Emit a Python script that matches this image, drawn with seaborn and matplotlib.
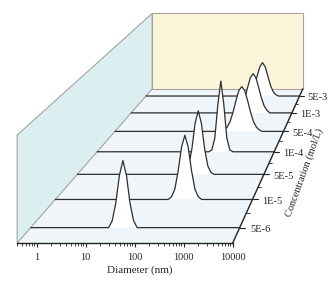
import numpy as np
import matplotlib
matplotlib.use("Agg")
import matplotlib.pyplot as plt
import seaborn as sns

# concentration rows, front to back
concentrations = ["5E-6", "1E-5", "5E-5", "1E-4", "5E-4", "1E-3", "5E-3"]

# size distributions (diameter nm, intensity %)
diam_5e6 = [17.5, 20.8, 24.7, 29.4, 34.9, 41.5, 49.2, 58.5, 69.5]
int_5e6 = [0, 2.0, 7.0, 14.9, 19.2, 14.9, 7.0, 2.0, 0]
diam_1e5 = [131, 156, 185, 220, 261, 310, 368, 437, 520, 618, 734]
int_1e5 = [0, 0.8, 3.1, 8.7, 15.9, 19.5, 15.9, 8.7, 3.1, 0.8, 0]
diam_5e5 = [120, 142, 169, 201, 238, 283, 336, 399, 475, 564, 670]
int_5e5 = [0, 0.6, 2.7, 8.3, 16.3, 20.4, 16.3, 8.3, 2.7, 0.6, 0]
diam_1e4 = [237, 282, 335, 398, 473, 562, 667, 793, 942]
int_1e4 = [0, 0.6, 4.6, 15.8, 23.9, 15.8, 4.6, 0.6, 0]
diam_5e4 = [239, 285, 340, 405, 482, 575, 685, 817, 974, 1161, 1384, 1650, 1966, 2343, 2793]
int_5e4 = [0, 0.5, 1.5, 3.5, 6.8, 10.9, 14.5, 15.9, 14.5, 10.9, 6.8, 3.5, 1.5, 0.5, 0]
diam_1e3 = [303, 362, 431, 514, 612, 730, 870, 1037, 1236, 1474, 1756, 2095, 2495]
int_1e3 = [0, 0.9, 2.5, 5.4, 9.4, 13.1, 14.6, 13.1, 9.4, 5.4, 2.5, 0.9, 0]
diam_5e3 = [303, 362, 431, 514, 612, 730, 870, 1037, 1236, 1474, 1756, 2095, 2495]
int_5e3 = [0, 0.5, 1.7, 4.1, 7.8, 11.4, 13.0, 11.4, 7.8, 4.1, 1.7, 0.5, 0]

diams = [diam_5e6, diam_1e5, diam_5e5, diam_1e4, diam_5e4, diam_1e3, diam_5e3]
ints = [int_5e6, int_1e5, int_5e5, int_1e4, int_5e4, int_1e3, int_5e3]

x_ticks = [1, 10, 100, 1000, 10000]
x_tick_labels = ["1", "10", "100", "1000", "10000"]
x_min, x_max = 0.4, 10000
z_top = 30

# one point perspective: vanishing point (log10 diameter, intensity)
vp_u, vp_z, persp = 8.753, 142.2, 0.4306


def proj(u, d, z):
    d = np.asarray(d, dtype=float)
    u = np.asarray(u, dtype=float)
    z = np.asarray(z, dtype=float)
    s = 1 / (1 + persp * d)
    return 10 ** (vp_u + s * (u - vp_u)), vp_z + s * (z - vp_z)


def row_depth(i):
    return (i + 0.5) / 6.95


sns.set_theme(style="white")
plt.rcParams['font.family'] = ['Liberation Serif', 'DejaVu Serif']

fig = plt.figure(figsize=(3.31, 2.84), dpi=100)
ax = fig.add_axes([17.2 / 331, 41 / 284, 215.5 / 331, 243 / 284])
ax.set_xscale('log')
ax.set_xlim(x_min, x_max)
ax.set_ylim(0, 67.5)
ax.patch.set_alpha(0)

u0, u1 = np.log10(x_min), np.log10(x_max)
pane_edge = '#a3a3a3'

# floor, left wall, back wall
fx, fy = proj([u0, u1, u1, u0], [0, 0, 1, 1], [0, 0, 0, 0])
ax.fill(fx, fy, facecolor='#eff5f9', edgecolor='none', zorder=1, clip_on=False)
lx, ly = proj([u0, u0, u0, u0], [0, 0, 1, 1], [0, z_top, z_top, 0])
ax.fill(lx, ly, facecolor='#dbeef0', edgecolor=pane_edge, lw=0.8, zorder=1, clip_on=False)
bx, by = proj([u0, u1, u1, u0], [1, 1, 1, 1], [0, 0, z_top, z_top])
ax.fill(bx, by, facecolor='#fbf6da', edgecolor=pane_edge, lw=0.8, zorder=1, clip_on=False)

# waterfall rows, back to front so the peaks hide what is behind
for i in reversed(range(len(concentrations))):
    d = row_depth(i)
    u = np.log10([x_min] + diams[i] + [x_max])
    z = [0] + ints[i] + [0]
    px, py = proj(u, d, z)
    zo = 2 + 2 * (len(concentrations) - i)
    ax.fill(px, py, color='white', lw=0, zorder=zo, clip_on=False)
    sns.lineplot(x=px, y=py, sort=False, estimator=None, color='#2e2e2e',
                 lw=0.9, zorder=zo + 1, clip_on=False, ax=ax)

# concentration axis on the right
rx, ry = proj([u1, u1], [0, 1], [0, 0])
ax.plot(rx, ry, color='#222222', lw=1, zorder=30, clip_on=False)
for i, lab in enumerate(concentrations):
    d = row_depth(i)
    tx, ty = proj([u1, u1 + 0.12], [d, d], [0, 0])
    ax.plot(tx, ty, color='#222222', lw=0.8, zorder=30, clip_on=False)
    lx, ly = proj(u1 + 0.22, d, -0.6)
    ax.text(lx, ly, lab, fontsize=7.5, ha='left', va='center', zorder=30)
for k in range(1, len(concentrations)):
    d = k / 6.95
    tx, ty = proj([u1, u1 + 0.07], [d, d], [0, 0])
    ax.plot(tx, ty, color='#222222', lw=0.6, zorder=30, clip_on=False)
cx, cy = proj(4.95, 0.37, 0)
ax.text(cx, cy, "Concentration (mol/L)", fontsize=7.5, rotation=70,
        ha='center', va='center')

# diameter axis in front
for side in ['left', 'top', 'right']:
    ax.spines[side].set_visible(False)
ax.spines['bottom'].set_color('#222222')
ax.spines['bottom'].set_linewidth(1)
ax.spines['bottom'].set_zorder(30)
ax.set_yticks([])
ax.set_xticks(x_ticks, x_tick_labels)
ax.tick_params(axis='x', which='major', direction='out', length=3, width=0.8,
               pad=4.5, labelsize=7.5, color='#222222', bottom=True)
ax.tick_params(axis='x', which='minor', direction='out', length=1.8, width=0.6,
               color='#222222', bottom=True)
ax.set_xlabel("Diameter (nm)", fontsize=8)
ax.xaxis.set_label_coords((140 - 17.2) / 215.5, -22 / 243)

fig.savefig("out.png", dpi=100)
